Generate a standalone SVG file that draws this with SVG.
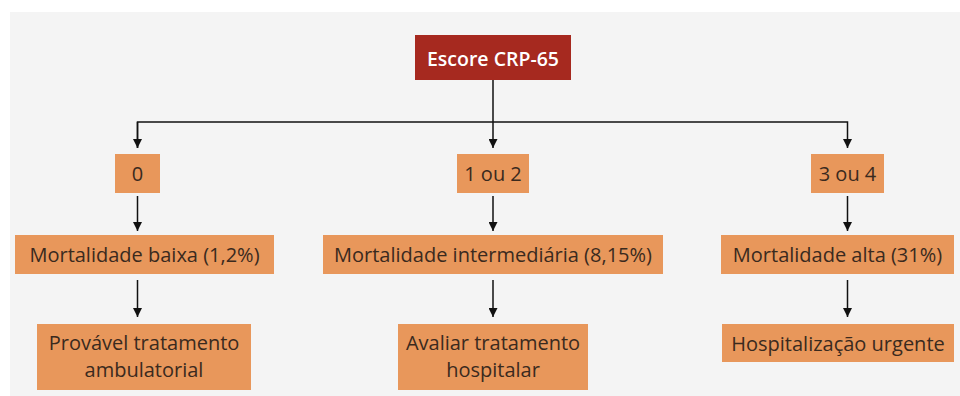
<svg xmlns="http://www.w3.org/2000/svg" width="960" height="396" viewBox="0 0 960 396">
<defs>
<style>
.bg{fill:#f4f4f4}
.box{fill:#e8975b}
.top{fill:#a6291f}
.t{font-family:"Open Sans","Noto Sans",sans-serif;font-size:20px;fill:#3a2a1e;text-anchor:middle;dominant-baseline:central}
.tw{font-family:"Open Sans","Noto Sans",sans-serif;font-size:19.5px;font-weight:600;fill:#ffffff;text-anchor:middle;dominant-baseline:central}
.c{fill:none;stroke:#111;stroke-width:1.5}
</style>
<marker id="ah" viewBox="0 0 10 10" refX="10" refY="5" markerWidth="9" markerHeight="9" markerUnits="userSpaceOnUse" orient="auto">
<path d="M0,0 L10,5 L0,10 z" fill="#111"/>
</marker>
</defs>
<rect x="0" y="0" width="960" height="396" fill="#ffffff"/>
<rect class="bg" x="10" y="12" width="950" height="384"/>
<g id="connectors">
<path class="c" d="M493,80 V122"/>
<path class="c" d="M137.5,148 V122 H847.5 V148" marker-end="url(#ah)"/>
<path class="c" d="M137.5,122 V148" marker-end="url(#ah)"/>
<path class="c" d="M493,122 V148" marker-end="url(#ah)"/>
<path class="c" d="M137.5,196 V231" marker-end="url(#ah)"/>
<path class="c" d="M493,196 V231" marker-end="url(#ah)"/>
<path class="c" d="M847.5,196 V231" marker-end="url(#ah)"/>
<path class="c" d="M137.5,280 V317" marker-end="url(#ah)"/>
<path class="c" d="M493,280 V317" marker-end="url(#ah)"/>
<path class="c" d="M847.5,280 V317" marker-end="url(#ah)"/>
</g>
<g id="n-top"><rect class="top" x="415" y="35" width="156" height="45"/><text class="tw" x="493" y="58">Escore CRP-65</text></g>
<g id="n-0"><rect class="box" x="115" y="154" width="45" height="39"/><text class="t" x="137.5" y="173.5">0</text></g>
<g id="n-12"><rect class="box" x="457" y="154" width="72" height="39"/><text class="t" x="493" y="173.5">1 ou 2</text></g>
<g id="n-34"><rect class="box" x="811" y="154" width="73" height="39"/><text class="t" x="847.5" y="173.5">3 ou 4</text></g>
<g id="n-baixa"><rect class="box" x="15" y="235" width="259" height="39"/><text class="t" x="144.5" y="254.5">Mortalidade baixa (1,2%)</text></g>
<g id="n-inter"><rect class="box" x="323" y="235" width="340" height="39"/><text class="t" x="493" y="254.5">Mortalidade intermediária (8,15%)</text></g>
<g id="n-alta"><rect class="box" x="721" y="235" width="233" height="39"/><text class="t" x="837.5" y="254.5">Mortalidade alta (31%)</text></g>
<g id="n-amb"><rect class="box" x="37" y="324" width="214" height="66"/><text class="t" x="144" y="342">Provável tratamento</text><text class="t" x="144" y="369.5">ambulatorial</text></g>
<g id="n-hosp"><rect class="box" x="398" y="324" width="190" height="66"/><text class="t" x="493" y="342">Avaliar tratamento</text><text class="t" x="493" y="369.5">hospitalar</text></g>
<g id="n-urg"><rect class="box" x="722" y="324" width="232" height="38"/><text class="t" x="838" y="343">Hospitalização urgente</text></g>
</svg>
